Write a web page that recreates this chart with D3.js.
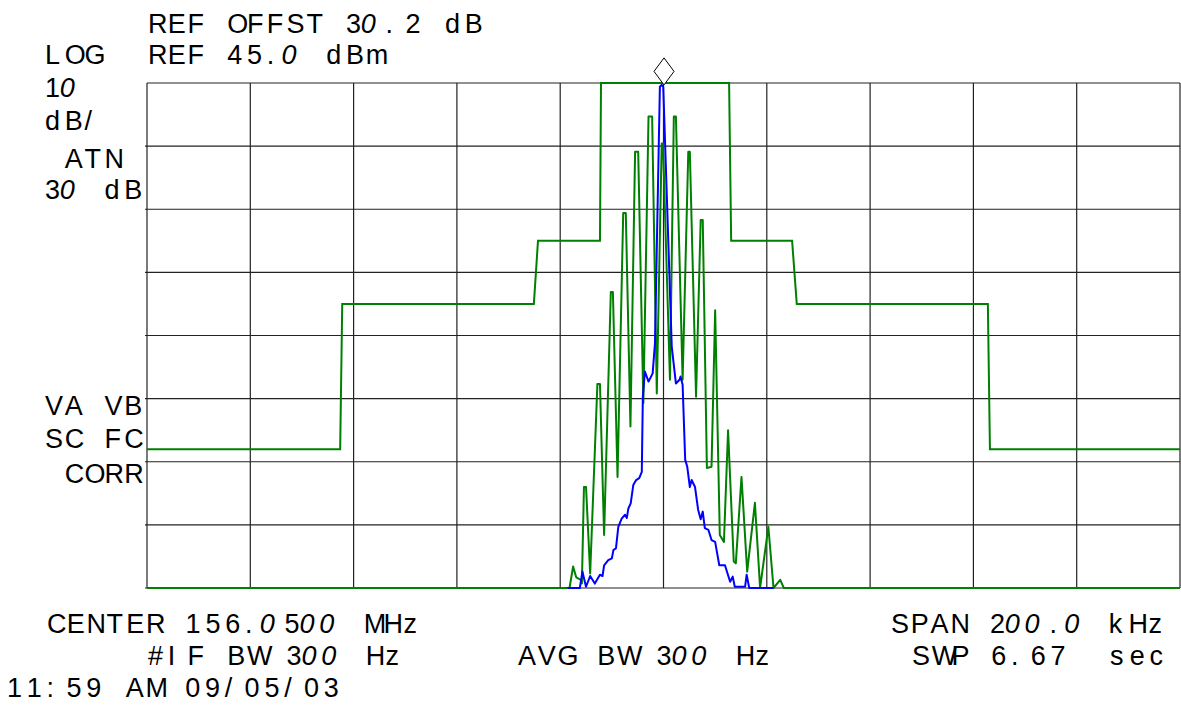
<!DOCTYPE html>
<html>
<head>
<meta charset="utf-8">
<script src="https://cdn.jsdelivr.net/npm/d3@7"></script>
<style>
body { margin: 0; background: #fff; }
svg { display: block; }
text { white-space: pre; }
</style>
</head>
<body>
<div id="chart"></div>
<script>
const width = 1181
const height = 709

// frequency offset from center in kHz, level in dBm
const freqDomain = [-100, 100]
const levelDomain = [45, -35]
const xDivs = 10
const yDivs = 8

// limit mask
const maskFreq = [-100, -62.6, -62.2, -25.1, -24.3, -12.3, -12.1, 12.7, 13.1, 24.9, 25.8, 62.8, 63.2, 100]
const maskLevel = [-13, -13, 10, 10, 20, 20, 45, 45, 20, 20, 10, 10, -13, -13]

// max hold trace (green)
const maxFreq = [-100, -18.2, -17.5, -16.9, -16.0, -15.8, -15.4, -15.0, -14.2, -12.8, -12.3, -11.5, -10.2, -9.8, -8.9, -7.8, -7.3, -6.4, -5.5, -4.9, -3.9, -2.9, -2.2, -1.3, -0.35, -0.1, 1.25, 2.0, 2.4, 3.7, 4.8, 5.1, 6.3, 7.2, 7.6, 8.4, 9.3, 10.0, 10.9, 11.7, 12.5, 13.6, 14.0, 15.1, 16.2, 17.7, 18.7, 20.3, 21.3, 22.6, 23.3, 100]
const maxLevel = [-35, -35, -31.6, -33.3, -33.7, -34.3, -19.0, -19.0, -32.7, -2.7, -2.7, -26.6, 11.9, 11.9, -17.4, 24.4, 24.4, -9.4, 34.1, 34.1, -5.7, 39.7, 39.7, -4.2, 35.4, 35.4, -2.0, 39.7, 39.7, -2.0, 34.1, 34.1, -4.7, 23.3, 23.3, -16.0, -15.8, 9.0, -26.6, -27.7, -10.0, -30.8, -31.1, -17.4, -32.4, -21.5, -35, -25.3, -35, -33.7, -35, -35]

// averaged trace (blue)
const avgFreq = [-18.6, -16.2, -15.7, -15.0, -14.2, -13.3, -12.3, -11.8, -11.5, -10.7, -10.0, -9.7, -9.2, -8.75, -8.1, -7.45, -7.1, -6.8, -6.35, -5.85, -5.3, -4.7, -4.2, -4.0, -3.6, -2.9, -2.1, -1.65, -0.7, -0.35, -0.05, 1.6, 2.4, 3.1, 3.3, 3.7, 4.2, 4.6, 5.1, 5.45, 6.1, 6.7, 7.2, 7.6, 8.0, 8.7, 9.3, 10.0, 10.8, 11.9, 12.9, 13.4, 13.8, 15.8, 16.1, 16.6, 21.3]
const avgLevel = [-35, -35, -32.4, -34.8, -33.1, -34.3, -32.9, -33.1, -31.4, -30.6, -30.3, -29.0, -28.7, -25.3, -24.0, -23.4, -23.9, -22.4, -21.6, -18.7, -17.9, -17.6, -16.6, -4.7, -0.7, -2.3, -1.0, 3.8, 44.4, 44.7, 44.4, 3.2, -2.6, -2.0, -1.5, -2.8, -14.7, -15.8, -19.0, -17.9, -19.0, -22.6, -24.1, -22.9, -25.5, -25.8, -27.4, -27.7, -31.4, -31.4, -34.0, -33.2, -34.8, -34.8, -32.9, -35, -35]

// peak marker
const markerFreq = 0.1
const markerLevel = 44.7

// annotation texts (analyzer screen)
const labelText = [
    "REF OFFST 30.2 dB", "LOG", "REF 45.0 dBm", "10", "dB/", " ATN", "30 dB",
    "VA VB", "SC FC", " CORR",
    "CENTER 156.0500 MHz", "SPAN 200.0 kHz",
    "#IF BW 300 Hz", "AVG BW 300 Hz", "SWP 6.67  sec",
    "11:59 AM 09/05/03"
]

// where each text sits on screen
const labelPos = [
    [148, 33], [45, 64], [148, 64], [45, 97], [45, 130], [45, 168], [45, 199],
    [45, 415], [45, 448], [45, 483],
    [47, 633], [891, 633],
    [148, 665], [518, 665], [912, 665],
    [7, 697]
]

const pitch = 19.8

const svg = d3.select("#chart").append("svg")
    .attr("width", width)
    .attr("height", height)
    .style("background-color", "#fff")

const x = d3.scaleLinear().domain(freqDomain).range([147, 1180])
const y = d3.scaleLinear().domain(levelDomain).range([83, 588])

// grid
const grid = svg.append("g").attr("id", "grid")
const xTicks = d3.range(xDivs + 1).map(i => freqDomain[0] + i * (freqDomain[1] - freqDomain[0]) / xDivs)
const yTicks = d3.range(yDivs + 1).map(i => levelDomain[0] + i * (levelDomain[1] - levelDomain[0]) / yDivs)

grid.selectAll(".vline")
    .data(xTicks)
    .join("line")
    .attr("class", "vline")
    .attr("x1", d => x(d)).attr("x2", d => x(d))
    .attr("y1", y(levelDomain[0])).attr("y2", y(levelDomain[1]))
    .attr("stroke", "#222")
    .attr("stroke-width", 1.2)

grid.selectAll(".hline")
    .data(yTicks)
    .join("line")
    .attr("class", "hline")
    .attr("x1", (d, i) => i === 0 ? x(freqDomain[0]) : x(freqDomain[0]) - 2)
    .attr("x2", x(freqDomain[1]))
    .attr("y1", d => y(d)).attr("y2", d => y(d))
    .attr("stroke", "#222")
    .attr("stroke-width", 1.2)

const line = d3.line()
    .x(d => x(d[0]))
    .y(d => y(d[1]))

const traces = svg.append("g").attr("id", "traces")

traces.append("path")
    .datum(d3.zip(maskFreq, maskLevel))
    .attr("d", line)
    .attr("fill", "none")
    .attr("stroke", "#008000")
    .attr("stroke-width", 2)

traces.append("path")
    .datum(d3.zip(maxFreq, maxLevel))
    .attr("d", line)
    .attr("fill", "none")
    .attr("stroke", "#008000")
    .attr("stroke-width", 2)
    .attr("stroke-linejoin", "round")

traces.append("path")
    .datum(d3.zip(avgFreq, avgLevel))
    .attr("d", line)
    .attr("fill", "none")
    .attr("stroke", "#0000ff")
    .attr("stroke-width", 2)
    .attr("stroke-linejoin", "round")

// diamond marker sitting on the peak
const mx = x(markerFreq)
const my = y(markerLevel) - 13.5
svg.append("path")
    .attr("d", `M${mx},${my - 13.5}L${mx + 10},${my}L${mx},${my + 13.5}L${mx - 10},${my}Z`)
    .attr("fill", "#fff")
    .attr("stroke", "#000")
    .attr("stroke-width", 1)

// texts are laid out in fixed character cells like the analyzer screen,
// zeros drawn slanted (except the time stamp)
const texts = svg.append("g")
    .attr("font-family", "'Liberation Sans', Arial, sans-serif")
    .attr("font-size", 27)
    .attr("fill", "#000")

labelText.forEach((s, k) => {
    const [x0, y0] = labelPos[k]
    const upright = k === labelText.length - 1
    const chars = s.split("")
    const xs = chars.map((c, i) => x0 + i * pitch + (c === "0" && !upright ? -5 : 0))

    const t = texts.append("text")
        .attr("xml:space", "preserve")
        .attr("x", xs.join(" "))
        .attr("y", y0)

    // split into runs of slanted zeros and plain characters
    const runs = []
    chars.forEach(c => {
        const slant = c === "0" && !upright
        const last = runs[runs.length - 1]
        if (last && last.slant === slant) last.s += c
        else runs.push({ s: c, slant: slant })
    })
    runs.forEach(r => {
        t.append("tspan")
            .attr("font-style", r.slant ? "italic" : null)
            .text(r.s)
    })
})
</script>
</body>
</html>
